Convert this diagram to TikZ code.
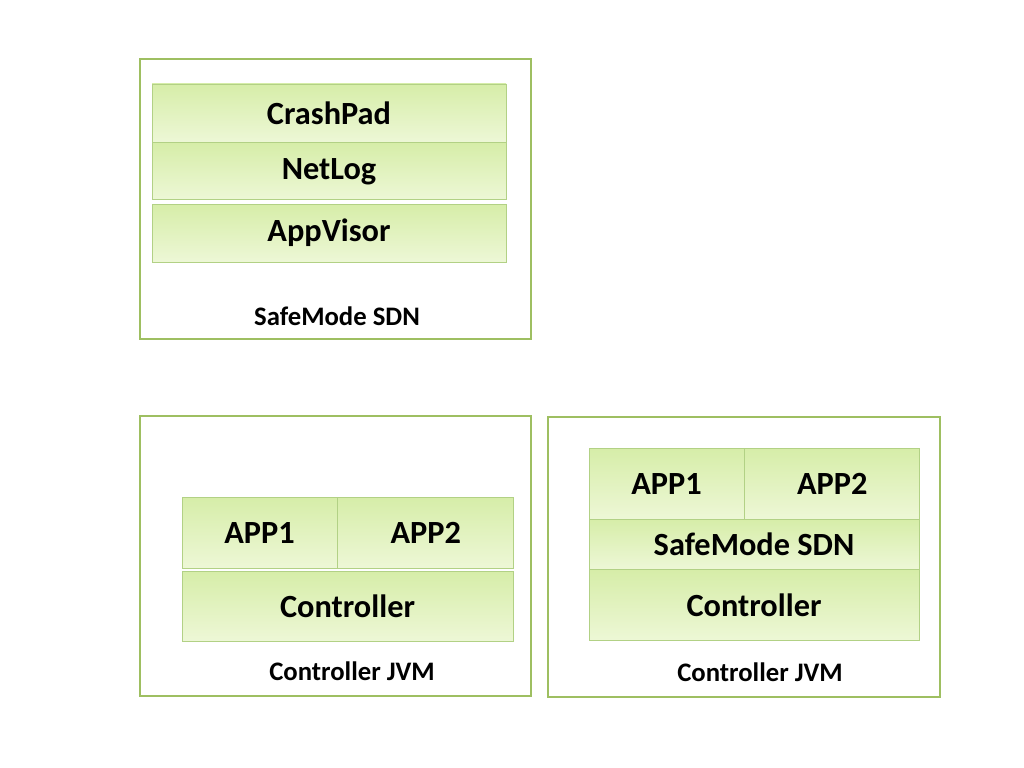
\documentclass[tikz,border=0pt]{standalone}
\usepackage{fontspec}
\setmainfont{Carlito}
\usetikzlibrary{positioning}
\definecolor{frameg}{rgb}{0.62,0.75,0.38}
\definecolor{layerg}{rgb}{0.70,0.82,0.52}
\definecolor{shadetop}{rgb}{0.84,0.93,0.66}
\definecolor{shadebot}{rgb}{0.93,0.97,0.84}
\tikzset{
  frame/.style={draw=frameg,line width=1.6pt,inner sep=0pt},
  layer/.style={draw=layerg,line width=0.6pt,top color=shadetop,bottom color=shadebot,
    inner sep=0pt,font=\fontsize{23}{26}\selectfont\bfseries},
  caption/.style={font=\fontsize{19}{22}\selectfont\bfseries}
}
\begin{document}
\begin{tikzpicture}[x=0.025cm,y=-0.025cm]
\useasboundingbox (0,0) rectangle (1024,768);
% top frame
\node[frame,minimum width=391*0.025cm,minimum height=280*0.025cm] (safe) at (335.5,199) {};
\node[layer,minimum width=354*0.025cm,minimum height=58*0.025cm] (crash) at (329,113) {CrashPad};
\node[layer,minimum width=354*0.025cm,minimum height=57*0.025cm,below=0pt of crash] (netlog) {NetLog};
\node[layer,minimum width=354*0.025cm,minimum height=58*0.025cm] (visor) at (329,233) {AppVisor};
\node[caption] (safelbl) at (337,316) {SafeMode SDN};
% bottom left frame
\node[frame,minimum width=391*0.025cm,minimum height=280*0.025cm] (jvmA) at (335.5,556) {};
\node[layer,minimum width=155*0.025cm,minimum height=71*0.025cm] (appA1) at (259.5,532.5) {APP1};
\node[layer,minimum width=176*0.025cm,minimum height=71*0.025cm,right=0pt of appA1] (appA2) {APP2};
\node[layer,minimum width=331*0.025cm,minimum height=70*0.025cm] (ctrlA) at (347.5,606) {Controller};
\node[caption] (jvmAlbl) at (352,671) {Controller JVM};
% bottom right frame
\node[frame,minimum width=392*0.025cm,minimum height=280*0.025cm] (jvmB) at (744,557) {};
\node[layer,minimum width=155*0.025cm,minimum height=71*0.025cm] (appB1) at (666.5,483.5) {APP1};
\node[layer,minimum width=175*0.025cm,minimum height=71*0.025cm,right=0pt of appB1] (appB2) {APP2};
\node[layer,minimum width=330*0.025cm,minimum height=50*0.025cm] (sdnB) at (754,544) {SafeMode SDN};
\node[layer,minimum width=330*0.025cm,minimum height=71*0.025cm,below=0pt of sdnB] (ctrlB) {Controller};
\node[caption] (jvmBlbl) at (760,672) {Controller JVM};
\end{tikzpicture}
\end{document}
